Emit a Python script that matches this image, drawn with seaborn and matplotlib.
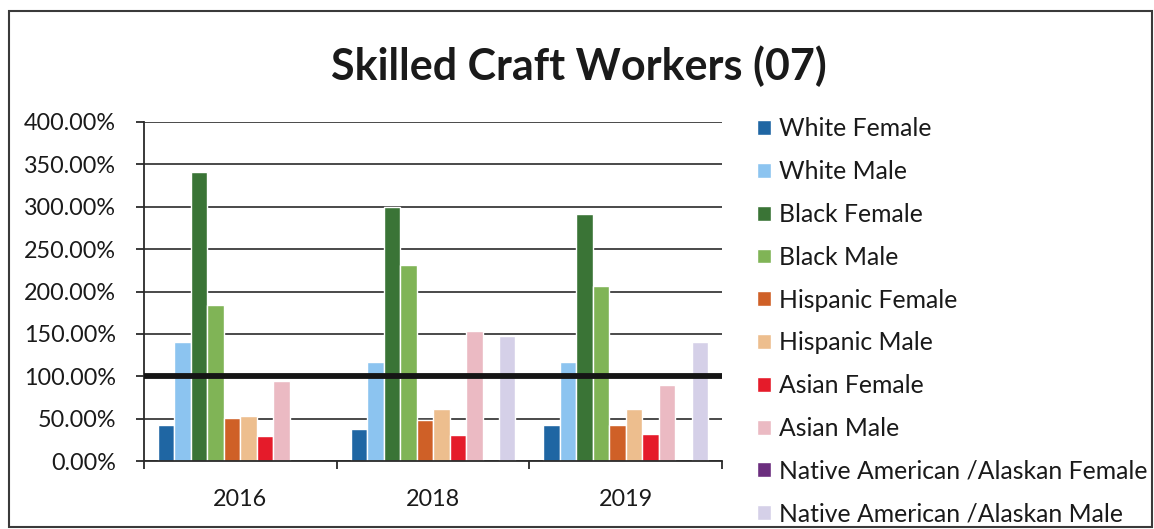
import matplotlib
matplotlib.use("Agg")
import matplotlib.pyplot as plt
import seaborn as sns
import pandas as pd
from matplotlib.patches import Rectangle
from matplotlib.ticker import FuncFormatter, MultipleLocator, FixedLocator

# Utilization ratios (percent) per year and demographic group
years = ["2016", "2018", "2019"]
groups = [
    "White Female", "White Male", "Black Female", "Black Male",
    "Hispanic Female", "Hispanic Male", "Asian Female", "Asian Male",
    "Native American /Alaskan Female", "Native American /Alaskan Male",
]
white_female = [42, 38, 43]
white_male = [140, 117, 117]
black_female = [341, 300, 292]
black_male = [184, 231, 206]
hispanic_female = [51, 48, 43]
hispanic_male = [53, 61, 61]
asian_female = [30, 31, 32]
asian_male = [94, 153, 90]
native_female = [0, 0, 0]
native_male = [0, 148, 140]
parity_level = 100

colors = [
    "#1F66A3", "#8CC4F0", "#3A7436", "#80B456", "#CF6027",
    "#EDBE8E", "#E51B2A", "#EBBAC3", "#6B2E7E", "#D5D0E8",
]

series = [white_female, white_male, black_female, black_male,
          hispanic_female, hispanic_male, asian_female, asian_male,
          native_female, native_male]
rows = []
for g, vals in zip(groups, series):
    for y, v in zip(years, vals):
        rows.append({"Year": y, "Group": g, "Value": v})
df = pd.DataFrame(rows)

sns.set_theme(style="white")
plt.rcParams["font.family"] = ["Lato", "DejaVu Sans"]

fig = plt.figure(figsize=(11.54, 5.29), dpi=100)
ax = fig.add_axes([0.1248, 0.1285, 0.501, 0.6409])

sns.barplot(data=df, x="Year", y="Value", hue="Group", order=years,
            hue_order=groups, palette=colors, width=0.855, gap=0,
            saturation=1, errorbar=None, ax=ax, zorder=2)

ax.set_ylim(0, 400)
ax.set_xlim(-0.5, len(years) - 0.5)
ax.yaxis.set_major_locator(MultipleLocator(50))
ax.yaxis.set_major_formatter(FuncFormatter(lambda v, _: f"{v:.2f}%"))
ax.grid(axis="y", color="#3c3c3c", linewidth=1.3, zorder=0)
ax.set_axisbelow(True)

# Reference line at 100%
ax.axhline(parity_level, color="#151515", linewidth=4.2, zorder=4)

for s in ["top", "right"]:
    ax.spines[s].set_visible(False)
for s in ["left", "bottom"]:
    ax.spines[s].set_color("#2a2a2a")
    ax.spines[s].set_linewidth(1.3)

ax.set_xlabel("")
ax.set_ylabel("")
ax.tick_params(axis="y", which="major", length=6, width=1.3, color="#2a2a2a",
               direction="out", left=True, pad=14, labelsize=16.8,
               labelcolor="#1a1a1a")
ax.tick_params(axis="x", which="major", length=0, pad=20, labelsize=16.8,
               labelcolor="#1a1a1a")
ax.xaxis.set_minor_locator(FixedLocator([i - 0.5 for i in range(len(years) + 1)]))
ax.tick_params(axis="x", which="minor", length=6, width=1.3, color="#2a2a2a",
               direction="out", bottom=True)

sns.move_legend(ax, loc="upper left", bbox_to_anchor=(0.656, 0.778),
                bbox_transform=fig.transFigure, frameon=False, title=None,
                fontsize=17.8, handlelength=0.55, handleheight=0.55,
                handletextpad=0.33, labelspacing=0.8, borderpad=0,
                borderaxespad=0)
for t in ax.get_legend().get_texts():
    t.set_color("#1a1a1a")

fig.text(0.502, 0.875, "Skilled Craft Workers (07)", ha="center", va="center",
         fontsize=31, fontweight="bold", color="#1a1a1a")

# Outer chart border
fig.patches.append(Rectangle((0.008, 0.004), 0.99, 0.975, transform=fig.transFigure,
                             fill=False, edgecolor="#3a3a3a", linewidth=1.5))

fig.savefig("out.png", dpi=100)
